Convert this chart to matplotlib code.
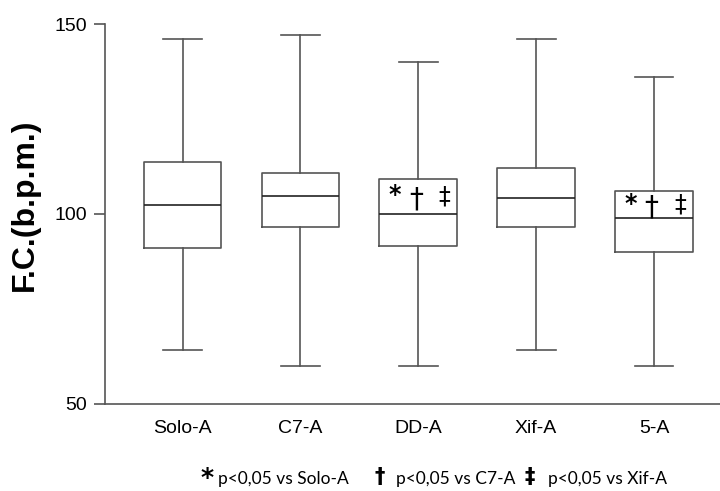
"""Box plot of heart rate (F.C.) by condition, with significance marks."""

import matplotlib

matplotlib.use("Agg")
import matplotlib.pyplot as plt

groups = ["Solo-A", "C7-A", "DD-A", "Xif-A", "5-A"]
whisker_low = [64, 60, 60, 64, 60]
q1 = [91.1, 96.5, 91.6, 96.5, 90.0]
median = [102.4, 104.8, 100.0, 104.3, 98.9]
q3 = [113.7, 110.7, 109.2, 112.2, 105.9]
whisker_high = [146, 147, 140, 146, 136]

# significance vs Solo-A, C7-A, Xif-A
sig_solo = [False, False, True, False, True]
sig_c7 = [False, False, True, False, True]
sig_xif = [False, False, True, False, True]

legend_items = [("*", "p<0,05 vs Solo-A"), ("†", "p<0,05 vs C7-A"), ("‡", "p<0,05 vs Xif-A")]

line_col = "#555555"
plt.rcParams["font.family"] = ["Liberation Sans", "DejaVu Sans"]


def main():
    fig = plt.figure(figsize=(7.2, 4.91), dpi=100)
    ax = fig.add_axes([0.1458, 0.178, 0.8542, 0.773])

    stats = []
    for g, lo, a, m, b, hi in zip(groups, whisker_low, q1, median, q3, whisker_high):
        stats.append(dict(label=g, whislo=lo, q1=a, med=m, q3=b, whishi=hi))

    positions = list(range(1, len(groups) + 1))
    ax.bxp(
        stats,
        positions=positions,
        widths=0.66,
        capwidths=0.33,
        showfliers=False,
        boxprops=dict(color=line_col, linewidth=1.2),
        whiskerprops=dict(color=line_col, linewidth=1.2),
        capprops=dict(color=line_col, linewidth=1.2),
        medianprops=dict(color="#222222", linewidth=1.2),
    )

    # marks inside the upper half of the box
    for x, s1, s2, s3, m, b in zip(positions, sig_solo, sig_c7, sig_xif, median, q3):
        yc = (m + b) / 2
        if s1:
            ax.text(x - 0.2, yc + 0.3, "*", fontsize=17, fontweight="bold",
                    family="DejaVu Sans", ha="center", va="center")
        if s2:
            ax.text(x - 0.02, yc - 0.8, "†", fontsize=20,
                    family="DejaVu Sans", ha="center", va="center")
        if s3:
            ax.text(x + 0.22, yc, "‡", fontsize=17,
                    family="DejaVu Sans", ha="center", va="center")

    ax.set_xlim(0.342, 5.56)
    ax.set_ylim(50, 150)
    ax.set_yticks([50, 100, 150])
    ax.set_xticks(positions)
    ax.set_xticklabels(groups)

    for side in ["top", "right"]:
        ax.spines[side].set_visible(False)
    for side in ["left", "bottom"]:
        ax.spines[side].set_color(line_col)
        ax.spines[side].set_linewidth(1.2)

    ax.tick_params(axis="x", length=0, pad=12, labelsize=14)
    ax.tick_params(axis="y", length=8, width=1.2, color=line_col, pad=5, labelsize=14)

    fig.text(0.035, 1 - 205 / 491, "F.C.(b.p.m.)", rotation=90, fontsize=23,
             fontweight="bold", ha="center", va="center")

    # footnote legend
    sym_x = [207, 380, 530]
    txt_x = [218, 396, 548]
    base_y = 1 - 484 / 491
    for (sym, label), sx, tx in zip(legend_items, sym_x, txt_x):
        if sym == "*":
            fig.text(sx / 720, 1 - 485 / 491, sym, fontsize=18, fontweight="bold",
                     family="DejaVu Sans", ha="center", va="baseline")
        else:
            fig.text(sx / 720, 1 - 477 / 491, sym, fontsize=15, fontweight="bold",
                     family="DejaVu Sans", ha="center", va="center")
        fig.text(tx / 720, base_y, label, fontsize=12.5, family="Lato",
                 ha="left", va="baseline")

    fig.savefig("out.png", dpi=100)


if __name__ == "__main__":
    main()
